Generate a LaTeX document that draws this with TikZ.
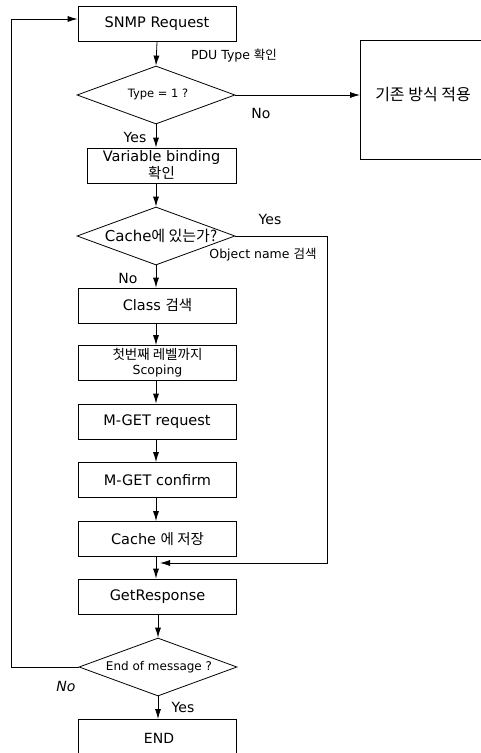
\documentclass[tikz,border=0pt]{standalone}
\usepackage{fontspec}
\setmainfont{DejaVu Sans}
\newfontfamily\ko{Noto Sans CJK KR}
\usetikzlibrary{shapes.geometric,arrows.meta}
\begin{document}
\begin{tikzpicture}[x=1pt,y=-1pt,
 box/.style={draw,line width=0.8pt,minimum width=158pt,minimum height=35pt,inner sep=0pt,align=center,font=\fontsize{14.5}{17}\selectfont},
 dia/.style={draw,shape=diamond,line width=0.8pt,inner sep=0pt,minimum width=158pt,minimum height=58pt},
 dtext/.style={font=\fontsize{11.5}{13}\selectfont,inner sep=0pt},
 lab/.style={font=\fontsize{14}{16}\selectfont,inner sep=0pt},
 small/.style={font=\fontsize{12.5}{14}\selectfont,inner sep=0pt},
 arr/.style={-{Latex[length=10pt,width=6pt]},line width=0.8pt},
 ln/.style={line width=0.8pt}]
\clip (0,0) rectangle (481,753);
\fill[white] (0,0) rectangle (481,753);
% boxes
\node[box] (snmp) at (157,24) {SNMP Request};
\node[dia] (d1) at (156,95) {};
\node[dtext] (d1t) at (158,94) {Type = 1 ?};
\node[box,minimum width=140pt,minimum height=119pt,anchor=north west] (ex) at (360,40) {};
\node[lab,font=\fontsize{16}{18}\selectfont] (ext) at (423,95) {\ko 기존 방식 적용};
\node[box,minimum width=149pt] (var) at (161.5,165.5) {Variable binding\\{\ko 확인}};
\node[dia] (d2) at (156,236) {};
\node[dtext,font=\fontsize{15}{17}\selectfont] (d2t) at (161,236) {Cache{\ko 에 있는가?}};
\node[box] (class) at (157.5,305.5) {Class {\ko 검색}};
\node[box,font=\fontsize{12.5}{15}\selectfont] (scope) at (157.5,363) {{\ko\fontsize{13.5}{15}\selectfont 첫번째 레벨까지}\\Scoping};
\node[box] (mreq) at (157,421.5) {M{-}GET request};
\node[box] (mconf) at (157.5,480) {M{-}GET confirm};
\node[box] (cache) at (157.5,539) {Cache {\ko 에 저장}};
\node[box] (getr) at (157.5,596.5) {GetResponse};
\node[dia] (d3) at (158,667) {};
\node[dtext,font=\fontsize{12}{14}\selectfont] (d3t) at (159,667) {End of message ?};
\node[box,minimum height=45pt,anchor=north] (endb) at (157.5,719) {};
\node[lab] (endt) at (159,738) {END};
% coordinates
\coordinate (yr) at (327,563);
\coordinate (merge) at (160,563);
\coordinate (lb) at (11,667);
\coordinate (lt) at (11,19);
% connectors
\draw[arr] (snmp.south) -- (d1.north);
\draw[arr] (d1.east) -- (d1.east -| ex.west);
\draw[arr] (d1.south) -- (d1.south |- var.north);
\draw[arr] (d2.north |- var.south) -- (d2.north);
\draw[arr] (d2.south) -- (d2.south |- class.north);
\draw[arr] (d2.south |- class.south) -- (d2.south |- scope.north);
\draw[arr] (d2.south |- scope.south) -- (d2.south |- mreq.north);
\draw[arr] (d2.south |- mreq.south) -- (d2.south |- mconf.north);
\draw[arr] (d2.south |- mconf.south) -- (d2.south |- cache.north);
\draw[arr] (d2.south |- cache.south) -- (d2.south |- getr.north);
\draw[arr] (d2.east) -| (yr) -- (merge);
\draw[arr] (d3.north |- getr.south) -- (d3.north);
\draw[arr] (d3.south) -- (d3.south |- endb.north);
\draw[arr] (d3.west) -- (lb) -- (lt) -- (lt -| snmp.west);
% labels
\node[small] (l1) at (234,56) {PDU Type {\ko 확인}};
\node[lab] (l2) at (261,113) {No};
\node[lab] (l3) at (135,137) {Yes};
\node[lab] (l4) at (270,219) {Yes};
\node[small] (l5) at (263,255) {Object name {\ko 검색}};
\node[lab] (l6) at (128,278) {No};
\node[lab,font=\fontsize{14}{16}\itshape] (l7) at (66,686) {No};
\node[lab] (l8) at (183,707) {Yes};
\end{tikzpicture}
\end{document}
